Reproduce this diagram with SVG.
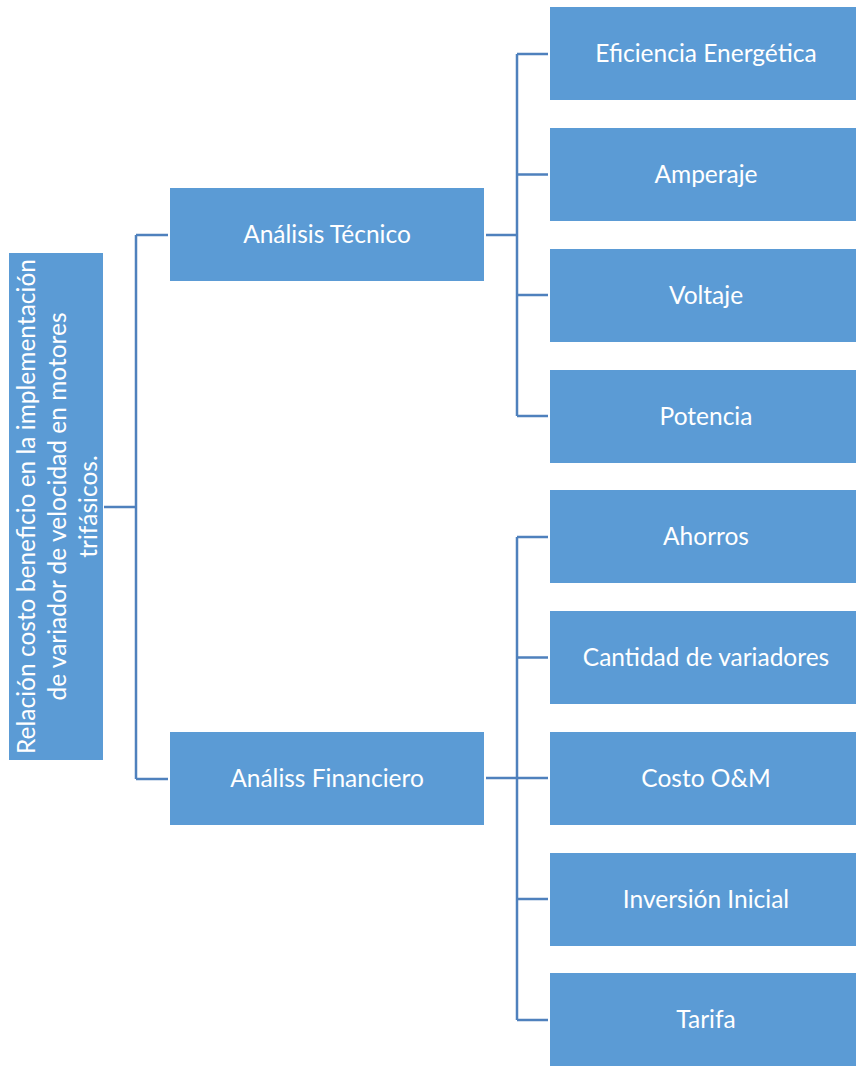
<svg xmlns="http://www.w3.org/2000/svg" width="856" height="1066" viewBox="0 0 856 1066">
<style>
.box{fill:#5b9bd5;}
.t{font-family:Lato,"Open Sans",sans-serif;font-size:24.5px;fill:#ffffff;text-anchor:middle;}
.c{stroke:#4f81bd;stroke-width:2.5;fill:none;}
</style>
<rect width="856" height="1066" fill="#ffffff"/>
<g id="connectors">
<path class="c" d="M104,507 H136 M136,235 V779 M136,235 H168 M136,779 H168"/>
<path class="c" d="M486,235 H517 M517,54 V416 M517,54 H548 M517,174.5 H548 M517,295 H548 M517,416 H548"/>
<path class="c" d="M486,778 H517 M517,537 V1020 M517,537 H548 M517,657.5 H548 M517,778 H548 M517,899 H548 M517,1020 H548"/>
</g>
<g id="root">
<rect class="box" x="9" y="253" width="94" height="507"/>
<text class="t" transform="translate(35,506.5) rotate(-90)">Relación costo beneficio en la implementación</text>
<text class="t" transform="translate(66,506.5) rotate(-90)">de variador de velocidad en motores</text>
<text class="t" transform="translate(97,506.5) rotate(-90)">trifásicos.</text>
</g>
<g id="tecnico">
<rect class="box" x="170" y="188" width="314" height="93"/>
<text class="t" x="327" y="243">Análisis Técnico</text>
</g>
<g id="financiero">
<rect class="box" x="170" y="732" width="314" height="93"/>
<text class="t" x="327" y="787">Análiss Financiero</text>
</g>
<g id="eficiencia">
<rect class="box" x="550" y="7" width="306" height="93"/>
<text class="t" x="706" y="62">Eficiencia Energética</text>
</g>
<g id="amperaje">
<rect class="box" x="550" y="128" width="306" height="93"/>
<text class="t" x="706" y="182.5">Amperaje</text>
</g>
<g id="voltaje">
<rect class="box" x="550" y="249" width="306" height="93"/>
<text class="t" x="706" y="303.5">Voltaje</text>
</g>
<g id="potencia">
<rect class="box" x="550" y="370" width="306" height="93"/>
<text class="t" x="706" y="424.5">Potencia</text>
</g>
<g id="ahorros">
<rect class="box" x="550" y="490" width="306" height="93"/>
<text class="t" x="706" y="544.5">Ahorros</text>
</g>
<g id="cantidad">
<rect class="box" x="550" y="611" width="306" height="93"/>
<text class="t" x="706" y="665.5">Cantidad de variadores</text>
</g>
<g id="costo">
<rect class="box" x="550" y="732" width="306" height="93"/>
<text class="t" x="706" y="786.5">Costo O&amp;M</text>
</g>
<g id="inversion">
<rect class="box" x="550" y="853" width="306" height="93"/>
<text class="t" x="706" y="907.5">Inversión Inicial</text>
</g>
<g id="tarifa">
<rect class="box" x="550" y="973" width="306" height="93"/>
<text class="t" x="706" y="1027.5">Tarifa</text>
</g>
</svg>
